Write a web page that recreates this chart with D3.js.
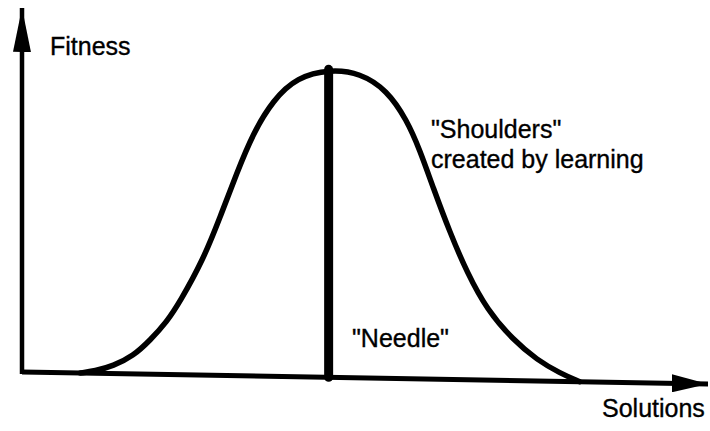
<!DOCTYPE html>
<html lang="en">
<head>
    <meta charset="UTF-8">
    <title>Needle and Shoulders</title>
    <script src="https://d3js.org/d3.v7.min.js"></script>
    <style>
        body { margin: 0; background: #fff; }
        text { font-family: "Liberation Sans", Arial, Helvetica, sans-serif; font-size: 25px; fill: #000; stroke: #000; stroke-width: 0.35px; }
    </style>
</head>
<body>
    <div id="chart-container"></div>

    <script>
        // fitness landscape: solution position (0-100) and fitness (0-1)
        const solutions = [8.5, 10.6, 13.3, 16.2, 18.7, 21.1, 23.0, 26.4, 28.9, 31.3, 33.7, 36.6, 40.1, 44.9,
                           49.3, 53.2, 56.1, 58.0, 59.9, 62.4, 64.9, 67.8, 71.6, 75.1, 78.4, 81.3];
        const fitness   = [0, 0.007, 0.025, 0.058, 0.111, 0.171, 0.236, 0.374, 0.515, 0.658, 0.789, 0.897, 0.973, 1.0,
                           0.99, 0.936, 0.84, 0.743, 0.624, 0.476, 0.347, 0.228, 0.132, 0.068, 0.027, 0];
        const needleAt = 44.7;
        const needleHeight = 1.0;

        const labels = [
            { text: "Fitness", x: 50, y: 55 },
            { text: "\"Shoulders\"", x: 431, y: 138 },
            { text: "created by learning", x: 431, y: 168 },
            { text: "\"Needle\"", x: 352, y: 347 },
            { text: "Solutions", x: 602, y: 417 }
        ];

        const containerWidth = 710;
        const containerHeight = 431;
        const origin = { x: 22, y: 372 };

        const svg = d3.select("#chart-container")
            .append("svg")
            .attr("width", containerWidth)
            .attr("height", containerHeight);

        // arrow heads
        const defs = svg.append("defs");
        defs.append("marker")
            .attr("id", "arrow-y")
            .attr("markerUnits", "userSpaceOnUse")
            .attr("viewBox", "0 0 44 18")
            .attr("markerWidth", 44)
            .attr("markerHeight", 18)
            .attr("refX", 44)
            .attr("refY", 9)
            .attr("orient", "auto")
            .append("path")
            .attr("d", "M0,0 L44,9 L0,18 Z")
            .attr("fill", "#000");
        defs.append("marker")
            .attr("id", "arrow-x")
            .attr("markerUnits", "userSpaceOnUse")
            .attr("viewBox", "0 0 36 18")
            .attr("markerWidth", 36)
            .attr("markerHeight", 18)
            .attr("refX", 36)
            .attr("refY", 9)
            .attr("orient", "auto")
            .append("path")
            .attr("d", "M0,0 L36,9 L0,18 Z")
            .attr("fill", "#000");

        // the scanned figure sits slightly tilted, so the plot group gets a tiny skew
        const plot = svg.append("g")
            .attr("transform", `translate(${origin.x},${origin.y}) skewY(1)`);

        const x = d3.scaleLinear().domain([0, 100]).range([0, 686]);
        const y = d3.scaleLinear().domain([0, 1]).range([0, -308]);

        // axes
        plot.append("line")
            .attr("x1", x(0)).attr("y1", y(0))
            .attr("x2", x(100)).attr("y2", y(0))
            .attr("stroke", "#000")
            .attr("stroke-width", 5)
            .attr("marker-end", "url(#arrow-x)");

        plot.append("line")
            .attr("x1", x(0)).attr("y1", y(0) + 2)
            .attr("x2", x(0)).attr("y2", -origin.y + 8)
            .attr("stroke", "#000")
            .attr("stroke-width", 4.5)
            .attr("marker-end", "url(#arrow-y)");

        // shoulders curve
        const line = d3.line()
            .x(d => x(d[0]))
            .y(d => y(d[1]))
            .curve(d3.curveBasis);

        plot.append("path")
            .datum(d3.zip(solutions, fitness))
            .attr("d", line)
            .attr("fill", "none")
            .attr("stroke", "#000")
            .attr("stroke-width", 5.5)
            .attr("stroke-linecap", "round");

        // needle
        plot.append("line")
            .attr("x1", x(needleAt)).attr("y1", y(0))
            .attr("x2", x(needleAt)).attr("y2", y(needleHeight))
            .attr("stroke", "#000")
            .attr("stroke-width", 9)
            .attr("stroke-linecap", "round");

        svg.selectAll(".label")
            .data(labels)
            .enter()
            .append("text")
            .attr("class", "label")
            .attr("x", d => d.x)
            .attr("y", d => d.y)
            .text(d => d.text);
    </script>
</body>
</html>
